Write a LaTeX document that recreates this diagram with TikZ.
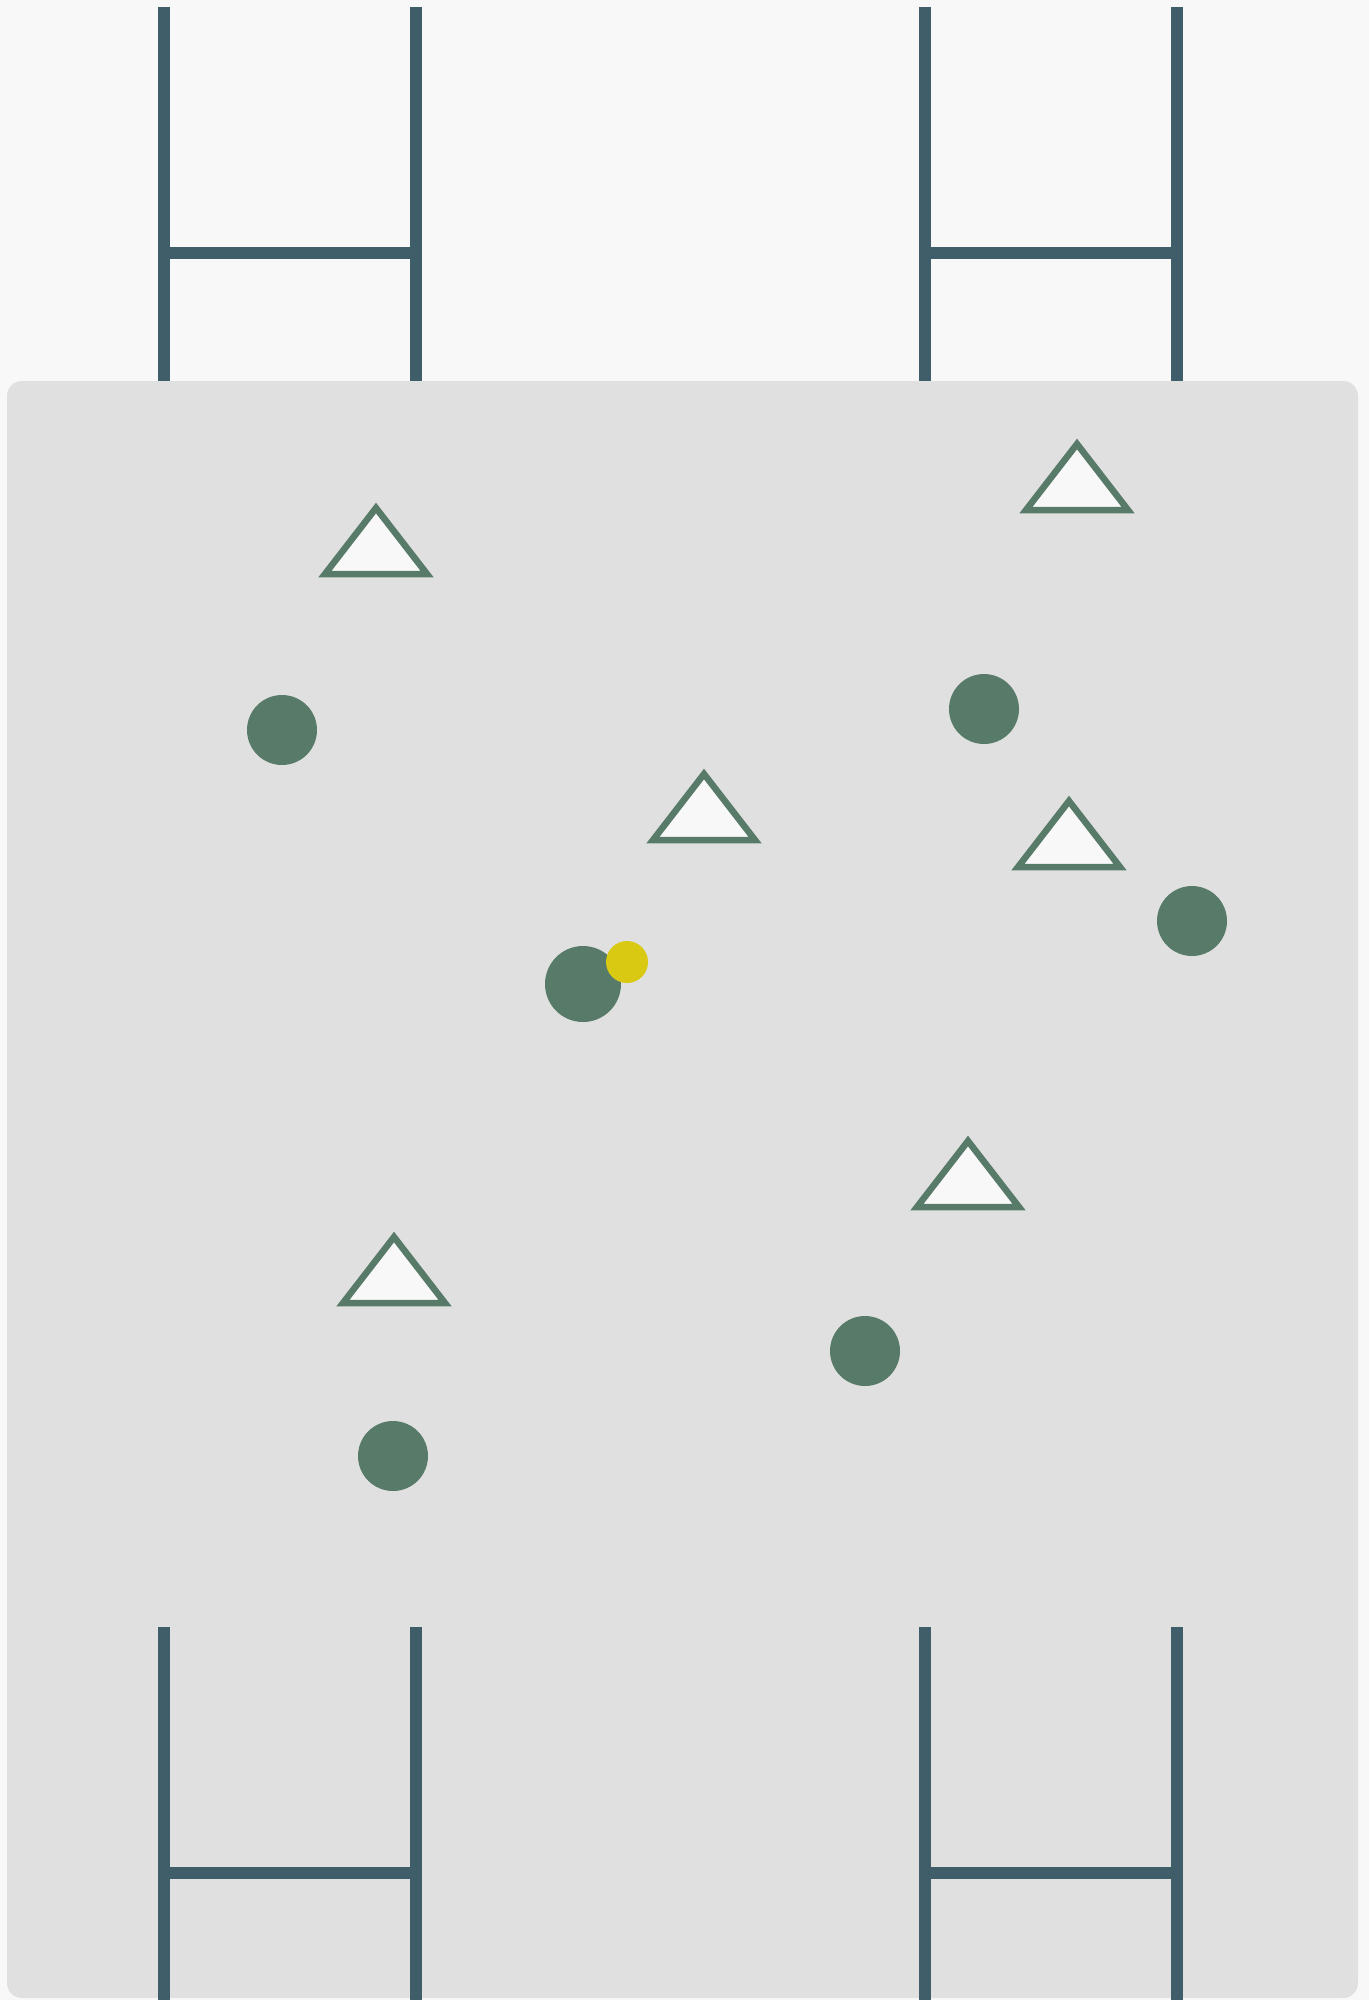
\documentclass[tikz,border=0pt]{standalone}
\definecolor{bgc}{HTML}{F8F8F8}
\definecolor{fieldc}{HTML}{E0E0E0}
\definecolor{postc}{HTML}{405E69}
\definecolor{grnc}{HTML}{587B69}
\definecolor{yelc}{HTML}{D9C912}
\begin{document}
\begin{tikzpicture}[x=1pt,y=-1pt,
  postline/.style={draw=postc, line width=12pt},
  cone/.style={draw=grnc, fill=bgc, line width=6.5pt, line join=miter},
  player/.style={fill=grnc},
  ballc/.style={fill=yelc}]
\fill[bgc] (0,0) rectangle (1369,2000);
\useasboundingbox (0,0) rectangle (1369,2000);
\fill[fieldc, rounded corners=15pt] (7,381) rectangle (1358,1998);
% goal posts
\foreach \gx in {164,925}{
  \draw[postline] (\gx,7) -- (\gx,381) (\gx+252,7) -- (\gx+252,381) (\gx,253) -- (\gx+252,253);
  \draw[postline] (\gx,1627) -- (\gx,2000) (\gx+252,1627) -- (\gx+252,2000) (\gx,1873) -- (\gx+252,1873);
}
% cones
\foreach \cx/\cy in {376/508, 1077/444, 704/774, 1069/801, 968/1141, 394/1237}{
  \draw[cone] (\cx,\cy) -- (\cx+51,\cy+66) -- (\cx-51,\cy+66) -- cycle;
}
% players
\foreach \px/\py in {282/730, 984/709, 1192/921, 865/1351, 393/1456}{
  \fill[player] (\px,\py) circle (35);
}
\fill[player] (583,984) circle (38);
\fill[ballc] (627,962) circle (21);
\end{tikzpicture}
\end{document}
